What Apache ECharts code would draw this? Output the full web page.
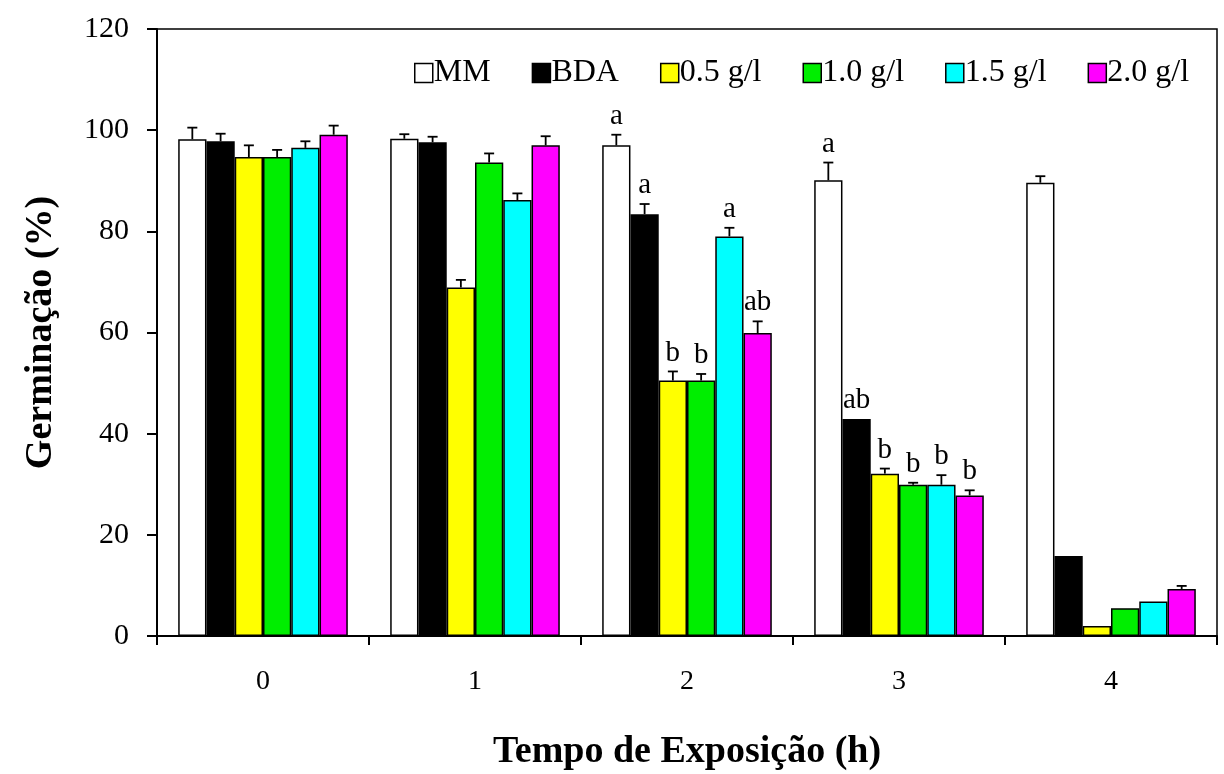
<!DOCTYPE html>
<html>
<head>
<meta charset="utf-8">
<script src="https://cdn.jsdelivr.net/npm/echarts@6/dist/echarts.min.js"></script>
<style>
  html, body { margin: 0; padding: 0; background: #fff; }
  #chart { width: 1224px; height: 774px; }
</style>
</head>
<body>
<div id="chart"></div>
<script>
// ---- data ----
const categories = ['0', '1', '2', '3', '4'];
const seriesNames = ['MM', 'BDA', '0.5 g/l', '1.0 g/l', '1.5 g/l', '2.0 g/l'];
const seriesColors = ['#ffffff', '#000000', '#ffff00', '#00ee00', '#00ffff', '#ff00ff'];

const valMM   = [98.2, 98.3, 97.0, 90.1, 89.6];
const valBDA  = [97.8, 97.6, 83.4, 42.9, 15.8];
const val05   = [94.7, 68.9, 50.5, 32.1, 2.0];
const val10   = [94.7, 93.6, 50.5, 29.9, 5.5];
const val15   = [96.5, 86.2, 79.0, 29.9, 6.8];
const val20   = [99.1, 97.0, 59.9, 27.8, 9.3];

const errMM   = [2.3, 0.9, 2.1, 3.5, 1.3];
const errBDA  = [1.5, 1.1, 2.0, 0, 0];
const err05   = [2.3, 1.5, 1.8, 1.0, 0];
const err10   = [1.4, 1.8, 1.3, 0.4, 0];
const err15   = [1.3, 1.3, 1.7, 1.9, 0];
const err20   = [1.8, 1.8, 2.3, 1.0, 0.6];

const lblMM   = ['', '', 'a', 'a', ''];
const lblBDA  = ['', '', 'a', 'ab', ''];
const lbl05   = ['', '', 'b', 'b', ''];
const lbl10   = ['', '', 'b', 'b', ''];
const lbl15   = ['', '', 'a', 'b', ''];
const lbl20   = ['', '', 'ab', 'b', ''];

const yTicks = { min: 0, max: 120, interval: 20 };

const allVals = [valMM, valBDA, val05, val10, val15, val20];
const allErrs = [errMM, errBDA, err05, err10, err15, err20];
const allLbls = [lblMM, lblBDA, lbl05, lbl10, lbl15, lbl20];

const FONT = '"Liberation Serif", "Times New Roman", serif';
const nSeries = seriesNames.length;
const catGapRatio = 0.2;

const series = [];
seriesNames.forEach((name, i) => {
  series.push({
    name: name,
    type: 'bar',
    data: allVals[i],
    barGap: '0%',
    barCategoryGap: (catGapRatio * 100) + '%',
    itemStyle: { color: seriesColors[i], borderColor: '#000', borderWidth: 1.5 },
    emphasis: { disabled: true },
    z: 2
  });
});
seriesNames.forEach((name, i) => {
  series.push({
    type: 'custom',
    name: 'err_' + i,
    data: allVals[i].map((v, k) => [k, v, allErrs[i][k], allLbls[i][k]]),
    encode: { x: 0, y: 1 },
    z: 3,
    silent: true,
    renderItem: function (params, api) {
      const band = api.size([1, 0])[0];
      const groupW = band * (1 - catGapRatio);
      const bw = groupW / nSeries;
      const base = api.coord([api.value(0), 0]);
      const cx = base[0] - groupW / 2 + bw * (i + 0.5);
      const v = api.value(1);
      const e = api.value(2);
      const yTop = api.coord([api.value(0), v])[1];
      const yErr = api.coord([api.value(0), v + e])[1];
      const children = [];
      if (e > 0) {
        children.push({
          type: 'line',
          shape: { x1: cx, y1: yTop, x2: cx, y2: yErr },
          style: { stroke: '#000', lineWidth: 1.8 }
        });
        children.push({
          type: 'line',
          shape: { x1: cx - 5, y1: yErr, x2: cx + 5, y2: yErr },
          style: { stroke: '#000', lineWidth: 1.8 }
        });
      }
      const lbl = allLbls[i][api.value(0)];
      if (lbl) {
        children.push({
          type: 'text',
          style: {
            x: cx, y: yErr - 4,
            text: lbl,
            align: 'center', verticalAlign: 'bottom',
            font: '29px ' + FONT,
            fill: '#000'
          }
        });
      }
      return { type: 'group', children: children };
    }
  });
});

const chart = echarts.init(document.getElementById('chart'), null, { renderer: 'canvas' });
chart.setOption({
  backgroundColor: '#fff',
  animation: false,
  textStyle: { fontFamily: FONT, color: '#000' },
  grid: {
    left: 157, right: 7, top: 29, bottom: 138,
    show: true, borderColor: '#000', borderWidth: 1.5,
    outerBoundsMode: 'none', containLabel: false
  },
  legend: {
    data: seriesNames,
    left: 409, top: 52,
    icon: 'rect',
    itemWidth: 18, itemHeight: 19,
    itemGap: 41,
    selectedMode: false,
    itemStyle: { borderColor: '#000', borderWidth: 1.5 },
    textStyle: { fontFamily: FONT, fontSize: 32, color: '#000', padding: [0, 0, 0, -4] }
  },
  xAxis: {
    type: 'category',
    data: categories,
    name: 'Tempo de Exposição (h)',
    nameLocation: 'middle',
    nameGap: 97,
    nameTextStyle: { fontFamily: FONT, fontSize: 38, fontWeight: 'bold', color: '#000' },
    axisLine: { lineStyle: { color: '#000', width: 2 } },
    axisTick: { show: true, inside: false, length: 9, lineStyle: { color: '#000', width: 2 } },
    axisLabel: { fontFamily: FONT, fontSize: 28, color: '#000', margin: 32 },
    splitLine: { show: false }
  },
  yAxis: {
    type: 'value',
    min: yTicks.min, max: yTicks.max, interval: yTicks.interval,
    name: 'Germinação (%)',
    nameLocation: 'middle',
    nameGap: 97,
    nameRotate: 90,
    nameTextStyle: { fontFamily: FONT, fontSize: 38, fontWeight: 'bold', color: '#000' },
    axisLine: { show: true, lineStyle: { color: '#000', width: 2 } },
    axisTick: { show: true, inside: false, length: 10, lineStyle: { color: '#000', width: 2 } },
    axisLabel: { fontFamily: FONT, fontSize: 30, color: '#000', margin: 28 },
    splitLine: { show: false }
  },
  series: series
});
</script>
</body>
</html>
